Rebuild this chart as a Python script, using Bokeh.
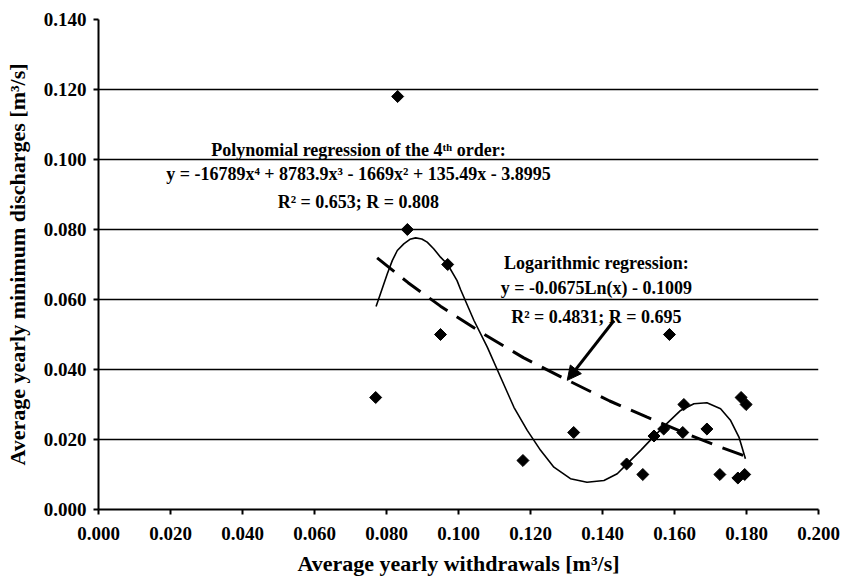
import numpy as np
from bokeh.plotting import figure
from bokeh.models import (FixedTicker, Label, Arrow, NormalHead, Range1d,
                          ColumnDataSource)
from bokeh.embed import file_html
from bokeh.resources import INLINE

# ---- data ----
withdrawals = [0.0770, 0.0831, 0.0858, 0.0950, 0.0970, 0.1179, 0.1320, 0.1467,
               0.1512, 0.1543, 0.1570, 0.1586, 0.1623, 0.1626, 0.1690, 0.1726,
               0.1776, 0.1785, 0.1795, 0.1799]
discharges = [0.032, 0.118, 0.080, 0.050, 0.070, 0.014, 0.022, 0.013,
              0.010, 0.021, 0.023, 0.050, 0.022, 0.030, 0.023, 0.010,
              0.009, 0.032, 0.010, 0.030]

# polynomial trend line
poly_x = [0.0771, 0.0783, 0.0802, 0.0816, 0.0830, 0.0848, 0.0865, 0.0881,
          0.0898, 0.0913, 0.0931, 0.0950, 0.0970, 0.0996, 0.1006, 0.1043,
          0.1080, 0.1117, 0.1154, 0.1191, 0.1228, 0.1265, 0.1311, 0.1357,
          0.1404, 0.1441, 0.1469, 0.1506, 0.1543, 0.1580, 0.1617, 0.1654,
          0.1690, 0.1728, 0.1756, 0.1779, 0.1797]
poly_y = [0.0580, 0.0616, 0.0673, 0.0711, 0.0740, 0.0759, 0.0772, 0.0776,
          0.0773, 0.0764, 0.0745, 0.0721, 0.0700, 0.0654, 0.0628, 0.0540,
          0.0464, 0.0378, 0.0292, 0.0226, 0.0169, 0.0121, 0.0088, 0.0078,
          0.0083, 0.0102, 0.0131, 0.0169, 0.0209, 0.0247, 0.0283, 0.0302,
          0.0305, 0.0288, 0.0254, 0.0207, 0.0145]

# logarithmic trend line
log_x = [0.0774, 0.0860, 0.0950, 0.1061, 0.1180, 0.1302, 0.1420, 0.1524,
         0.1620, 0.1710, 0.1793]
log_y = [0.0719, 0.0648, 0.0581, 0.0507, 0.0434, 0.0370, 0.0310, 0.0264,
         0.0222, 0.0185, 0.0154]

x_ticks = [0.0, 0.02, 0.04, 0.06, 0.08, 0.1, 0.12, 0.14, 0.16, 0.18, 0.2]
x_tick_labels = ["0.000", "0.020", "0.040", "0.060", "0.080", "0.100",
                 "0.120", "0.140", "0.160", "0.180", "0.200"]
y_ticks = [0.0, 0.02, 0.04, 0.06, 0.08, 0.1, 0.12, 0.14]
y_tick_labels = ["0.000", "0.020", "0.040", "0.060", "0.080", "0.100",
                 "0.120", "0.140"]
y_grid = [0.02, 0.04, 0.06, 0.08, 0.1, 0.12]

poly_text = ["Polynomial regression of the 4\u1d57\u02b0 order:",
             "y = -16789x\u2074 + 8783.9x\u00b3 - 1669x\u00b2 + 135.49x - 3.8995",
             "R\u00b2 = 0.653; R = 0.808"]
log_text = ["Logarithmic regression:",
            "y = -0.0675Ln(x) - 0.1009",
            "R\u00b2 = 0.4831; R = 0.695"]

FONT = "Liberation Serif"

p = figure(width=841, height=581, output_backend="svg", toolbar_location=None,
           x_range=Range1d(0, 0.2), y_range=Range1d(0, 0.14),
           min_border_left=98, min_border_right=23, min_border_top=19,
           min_border_bottom=72)
p.outline_line_color = None
p.background_fill_color = "white"
p.border_fill_color = "white"

# axes
for ax in (p.xaxis[0], p.yaxis[0]):
    ax.axis_line_width = 2
    ax.axis_line_color = "black"
    ax.major_tick_line_width = 2
    ax.major_tick_line_color = "black"
    ax.major_tick_out = 5
    ax.major_tick_in = 0
    ax.minor_tick_line_color = None
    ax.major_label_text_font = FONT
    ax.major_label_text_font_style = "bold"
    ax.major_label_text_font_size = "19px"
    ax.major_label_text_color = "black"
    ax.axis_label_text_font = FONT
    ax.axis_label_text_font_style = "bold"
    ax.axis_label_text_font_size = "22px"
    ax.axis_label_text_color = "black"

p.xaxis.ticker = FixedTicker(ticks=x_ticks)
p.xaxis.major_label_overrides = dict(zip(x_ticks, x_tick_labels))
p.yaxis.ticker = FixedTicker(ticks=y_ticks)
p.yaxis.major_label_overrides = dict(zip(y_ticks, y_tick_labels))
p.xaxis.major_label_standoff = 12
p.yaxis.major_label_standoff = 7
p.xaxis.axis_label = "Average yearly withdrawals [m\u00b3/s]"
p.yaxis.axis_label = "Average yearly minimum discharges [m\u00b3/s]"
p.xaxis.axis_label_standoff = 8
p.yaxis.axis_label_standoff = 11

p.xgrid.grid_line_color = None
p.ygrid.ticker = FixedTicker(ticks=y_grid)
p.ygrid.grid_line_color = "black"
p.ygrid.grid_line_width = 1.6

# trend lines
p.line(poly_x, poly_y, line_color="black", line_width=1.6, line_join="round")
p.line(log_x, log_y, line_color="black", line_width=3, line_dash="22 11")

# points
src = ColumnDataSource(dict(x=withdrawals, y=discharges))
p.scatter("x", "y", source=src, marker="square", angle=np.pi / 4, size=8.5,
          fill_color="black", line_color="black")

# annotations
poly_pos = [(0.0722, 0.1026), (0.0722, 0.0960), (0.0722, 0.0880)]
log_pos = [(0.1383, 0.0703), (0.1383, 0.0634), (0.1383, 0.0549)]
for txt, (lx, ly) in list(zip(poly_text, poly_pos)) + list(zip(log_text, log_pos)):
    p.add_layout(Label(x=lx, y=ly, text=txt, text_align="center",
                       text_baseline="alphabetic", text_font=FONT,
                       text_font_style="bold", text_font_size="18px",
                       text_color="black"))

p.add_layout(Arrow(end=NormalHead(size=14, fill_color="black", line_color="black"),
                   x_start=0.1432, y_start=0.0540, x_end=0.1302, y_end=0.0369,
                   line_width=3, line_color="black"))

open("out.html", "w").write(file_html(p, INLINE))
